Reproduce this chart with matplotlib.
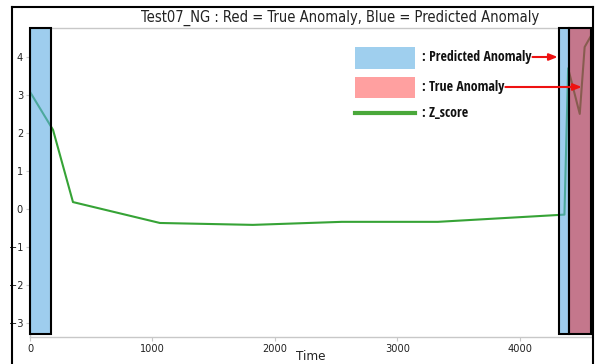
import matplotlib
matplotlib.use("Agg")
import matplotlib.pyplot as plt
from matplotlib import font_manager as fm
from matplotlib.patches import Rectangle
from matplotlib.lines import Line2D

# Z-score trace over time
time = [0, 188, 351, 1061, 1820, 2547, 3331, 4365, 4395, 4490, 4530, 4590]
z_score = [3.08, 2.08, 0.18, -0.37, -0.42, -0.34, -0.34, -0.15, 3.70, 2.50, 4.26, 4.60]

# anomaly intervals (start, end) in time units
predicted_spans = [(0, 170), (4318, 4400)]
true_spans = [(4400, 4585)]

x_ticks = [0, 1000, 2000, 3000, 4000]
y_ticks = [-3, -2, -1, 0, 1, 2, 3, 4]

title = "Test07_NG : Red = True Anomaly, Blue = Predicted Anomaly"
legend_labels = [": Predicted Anomaly", ": True Anomaly", ": Z_score"]

W, H = 595, 364
names = {f.name for f in fm.fontManager.ttflist}
legend_family = next((n for n in ["Open Sans Condensed", "Roboto Condensed", "Archivo Narrow",
                                  "Asap Condensed", "Sofia Sans Condensed",
                                  "Liberation Sans Narrow"] if n in names), "Liberation Sans")

plt.rcParams["font.family"] = ["DejaVu Sans"]
plt.rcParams["font.stretch"] = "condensed"

fig = plt.figure(figsize=(W / 100, H / 100), dpi=100)
fig.patch.set_facecolor("white")


def fx(px):
    return px / W


def fy(py):
    return 1 - py / H


ax = fig.add_axes([fx(30), fy(337), fx(592) - fx(30), fy(28) - fy(337)])
ymin, ymax = -3.37, 4.76
ax.set_xlim(0, 4590)
ax.set_ylim(ymin, ymax)

ax.plot(time, z_score, color="#36a336", lw=1.5, zorder=2)

box_bottom = -3.29
for x0, x1 in predicted_spans:
    ax.add_patch(Rectangle((x0, box_bottom), x1 - x0, ymax - box_bottom,
                           facecolor=(93 / 255, 173 / 255, 227 / 255, 0.6),
                           edgecolor="black", lw=1.5, zorder=3, clip_on=False))
for x0, x1 in true_spans:
    ax.add_patch(Rectangle((x0, box_bottom), x1 - x0, ymax - box_bottom,
                           facecolor=(171 / 255, 62 / 255, 91 / 255, 0.7),
                           edgecolor="black", lw=1.5, zorder=3, clip_on=False))

ax.set_xticks(x_ticks)
ax.set_yticks(y_ticks)
ax.set_yticklabels([str(v).replace("-", "\u2212") for v in y_ticks])
for sp in ax.spines.values():
    sp.set_color("#c8c8c8")
    sp.set_linewidth(1.0)
ax.tick_params(axis="both", length=3, width=0.8, color="#c8c8c8",
               labelsize=7.8, labelcolor="#222222", pad=2)

fig.text(fx(311), fy(357), "Time", ha="center", va="center", fontsize=9.5,
         color="#222222")
fig.text(fx(340), fy(18), title, ha="center", va="center", fontsize=10.5,
         color="#222222")

# outer frame
fig.add_artist(Line2D([fx(12), fx(12)], [fy(7), 0], color="black", lw=1.5))
fig.add_artist(Line2D([fx(12), fx(593)], [fy(7), fy(7)], color="black", lw=1.5))
fig.add_artist(Line2D([fx(593), fx(593)], [fy(7), 0], color="black", lw=1.5))

# hand-made legend
fig.add_artist(Rectangle((fx(355), fy(69)), fx(415) - fx(355), fy(47) - fy(69),
                         transform=fig.transFigure, facecolor="#9fcfee", edgecolor="none"))
fig.add_artist(Rectangle((fx(355), fy(98)), fx(415) - fx(355), fy(77) - fy(98),
                         transform=fig.transFigure, facecolor="#ffa0a0", edgecolor="none"))
fig.add_artist(Line2D([fx(355), fx(415)], [fy(113), fy(113)], color="#4aa83a", lw=3))

legend_y = [57, 87, 113]
legend_texts = [fig.text(fx(422), fy(py), lab, ha="left", va="center", fontsize=11,
                         fontweight="bold", fontstretch="normal",
                         family=[legend_family, "DejaVu Sans"], color="#111111")
                for lab, py in zip(legend_labels, legend_y)]

# size the legend text to the width of the longest entry
renderer = fig.canvas.get_renderer()
width = legend_texts[0].get_window_extent(renderer).width
size = min(11.0, 11 * 110 / width)
for t in legend_texts:
    t.set_fontsize(size)

# horizontal arrows from the legend entries to the anomaly regions
arrow_kw = dict(arrowstyle="-|>,head_length=0.5,head_width=0.2", color="#ee1111", lw=1.5,
                shrinkA=0, shrinkB=0)
target_times = [4310, 4506]
for t, tx in zip(legend_texts[:2], target_times):
    ext = t.get_window_extent(renderer)
    y_px = (ext.y0 + ext.y1) / 2
    start = fig.transFigure.inverted().transform((ext.x1 + 1, y_px))
    ty = ax.transData.inverted().transform((0, y_px))[1]
    ax.annotate("", xy=(tx, ty), xycoords="data", xytext=tuple(start),
                textcoords="figure fraction", arrowprops=arrow_kw, annotation_clip=False)

fig.savefig("out.png", dpi=100)
